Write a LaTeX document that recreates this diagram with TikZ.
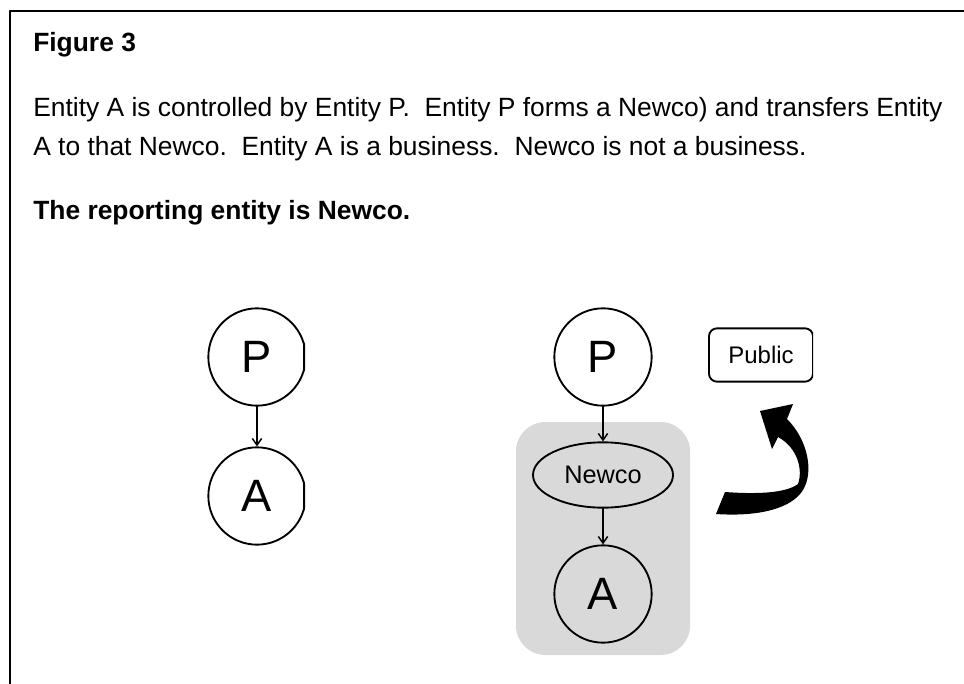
\documentclass[tikz,border=0pt]{standalone}
\usepackage{fontspec}
\setmainfont{Liberation Sans}
\usetikzlibrary{shapes.geometric,arrows.meta}
\definecolor{boxgray}{RGB}{217,217,217}
\begin{document}
\begin{tikzpicture}[x=0.75pt, y=-0.75pt, line cap=round, line join=round, >={Straight Barb[length=5pt,width=7pt]}]
	\tikzset{entity/.style={circle, draw, line width=1.4pt, minimum size=73pt, inner sep=0pt, font=\fontsize{34}{34}\selectfont},
		company/.style={ellipse, draw, line width=1.4pt, minimum width=105pt, minimum height=49pt, inner sep=0pt, font=\fontsize{19}{19}\selectfont},
		pubbox/.style={rectangle, rounded corners=6pt, draw, line width=1.4pt, minimum width=78pt, minimum height=40pt, font=\fontsize{18}{18}\selectfont},
		body text/.style={anchor=base west, inner sep=0pt, font=\fontsize{19.8}{24}\selectfont},
		link/.style={->, line width=1.1pt}}
	\useasboundingbox (0,0) rectangle (964,684);
	\draw[line width=1.5pt] (964,11) -- (10,11) -- (10,684);
	% heading and description
	\node[body text, font=\fontsize{19.8}{24}\selectfont\bfseries] (title) at (33,52) {Figure 3};
	\node[body text] (line1) at (33,117) {Entity A is controlled by Entity P.\ \ Entity P forms a Newco) and transfers Entity};
	\node[body text] (line2) at (33,156) {A to that Newco.\ \ Entity A is a business.\ \ Newco is not a business.};
	\node[body text, font=\fontsize{19.8}{24}\selectfont\bfseries] (result) at (33,220) {The reporting entity is Newco.};
	% before
	\begin{scope}
		\clip (0,0) rectangle (305,684);
		\node[entity] (lp) at (257,357) {P};
		\node[entity] (la) at (257,496) {A};
		\draw[line width=1.4pt, line cap=butt] (304,343) -- (304,371) (304,482) -- (304,510);
	\end{scope}
	\draw[link] (lp) -- (la);
	% after
	\fill[boxgray, rounded corners=22pt] (516,422) rectangle (690,655);
	\node[entity] (rp) at (603,357) {P};
	\node[company] (newco) at (603,475) {Newco};
	\node[entity] (ra) at (603,594) {A};
	\draw[link] (rp) -- (newco);
	\draw[link] (newco) -- (ra);
	\begin{scope}
		\clip (0,0) rectangle (813,684);
		\node[pubbox] (public) at (761,355) {Public};
	\end{scope}
	\fill (760,411) -- (793,404) -- (787,419)
		.. controls (808,440) and (814,472) .. (803,490)
		.. controls (792,508) and (760,517) .. (716,514)
		-- (725,492)
		.. controls (752,494) and (785,494) .. (798,484)
		.. controls (803,470) and (798,448) .. (778,437)
		-- (772,449) -- cycle;
\end{tikzpicture}
\end{document}
